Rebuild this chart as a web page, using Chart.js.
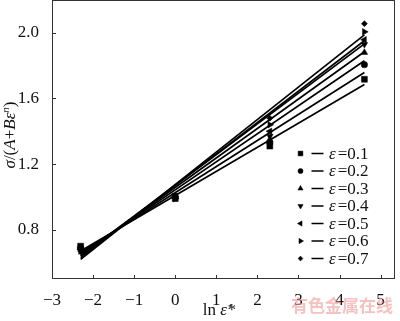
<!DOCTYPE html>
<html>
<head>
<meta charset="utf-8">
<script src="https://cdn.jsdelivr.net/npm/chart.js@4.4.1/dist/chart.umd.min.js"></script>
<style>
  html, body { margin: 0; padding: 0; background: #fff; }
  #wrap { width: 400px; height: 321px; position: relative; }
</style>
</head>
<body>
<div id="wrap"><canvas id="c" width="400" height="321"></canvas></div>
<script>
// ---- data ----
const lnRate = [-2.303, 0, 2.303, 4.605];          // ln(strain rate*) of the tests
const strainLabels = ['0.1', '0.2', '0.3', '0.4', '0.5', '0.6', '0.7'];
const eps01 = [0.70, 0.99, 1.31, 1.717];
const eps02 = [0.69, 1.00, 1.33, 1.806];
const eps03 = [0.69, 1.00, 1.35, 1.880];
const eps04 = [0.68, 1.01, 1.37, 1.930];
const eps05 = [0.68, 1.00, 1.40, 1.958];
const eps06 = [0.67, 0.99, 1.44, 2.006];
const eps07 = [0.67, 1.00, 1.48, 2.056];
// fitted lines: value at first and last lnRate
const fitStart = [0.670, 0.660, 0.650, 0.645, 0.640, 0.630, 0.620];
const fitEnd   = [1.685, 1.758, 1.830, 1.885, 1.933, 1.952, 1.988];
const xTicks = [-3, -2, -1, 0, 1, 2, 3, 4, 5];
const yTicks = [0.8, 1.2, 1.6, 2.0];

const seriesValues = [eps01, eps02, eps03, eps04, eps05, eps06, eps07];
const markerStyles = [
  { style: 'rect', rot: 0, r: 4.2 },
  { style: 'circle', rot: 0, r: 3.2 },
  { style: 'triangle', rot: 0, r: 3.8 },
  { style: 'triangle', rot: 180, r: 3.8 },
  { style: 'triangle', rot: -90, r: 3.8 },
  { style: 'triangle', rot: 90, r: 3.8 },
  { style: 'rectRot', rot: 0, r: 3.0 }
];

const SERIF = '"Liberation Serif", "DejaVu Serif", serif';
const datasets = [];
seriesValues.forEach((vals, i) => {
  datasets.push({
    label: 'fit ε=' + strainLabels[i],
    data: [{ x: lnRate[0], y: fitStart[i] }, { x: lnRate[lnRate.length - 1], y: fitEnd[i] }],
    showLine: true, borderColor: '#000', borderWidth: 1.7, pointRadius: 0, order: 2
  });
});
seriesValues.forEach((vals, i) => {
  datasets.push({
    label: 'ε=' + strainLabels[i],
    data: vals.map((v, k) => ({ x: lnRate[k], y: v })),
    showLine: false,
    pointStyle: markerStyles[i].style,
    rotation: markerStyles[i].rot,
    pointRadius: markerStyles[i].r,
    backgroundColor: '#000', borderColor: '#000', borderWidth: 0.5,
    order: 1
  });
});

function drawSegments(ctx, segs, x, y, align) {
  let total = 0;
  segs.forEach(s => {
    ctx.font = (s.italic ? 'italic ' : '') + s.size + 'px ' + SERIF;
    s.w = ctx.measureText(s.t).width + (s.gap || 0);
    total += s.w;
  });
  let cx = align === 'center' ? x - total / 2 : x;
  segs.forEach(s => {
    ctx.font = (s.italic ? 'italic ' : '') + s.size + 'px ' + SERIF;
    ctx.fillText(s.t, cx, y + (s.dy || 0));
    cx += s.w;
  });
}

const decorPlugin = {
  id: 'decor',
  afterDraw(chart) {
    const { ctx, chartArea: a, scales } = chart;
    ctx.save();
    ctx.strokeStyle = '#333';
    ctx.lineWidth = 1;
    ctx.strokeRect(a.left + 0.5, a.top + 0.5, a.right - a.left - 1, a.bottom - a.top - 1);
    ctx.beginPath();
    xTicks.forEach(v => {
      const px = Math.round(scales.x.getPixelForValue(v)) + 0.5;
      ctx.moveTo(px, a.bottom); ctx.lineTo(px, a.bottom - 4);
    });
    yTicks.forEach(v => {
      const py = Math.round(scales.y.getPixelForValue(v)) + 0.5;
      ctx.moveTo(a.left, py); ctx.lineTo(a.left + 4, py);
    });
    ctx.stroke();

    ctx.fillStyle = '#111';
    ctx.textBaseline = 'middle';
    ctx.textAlign = 'left';
    drawSegments(ctx, [
      { t: 'ln ', italic: false, size: 17 },
      { t: 'ε\u0307*', italic: true, size: 17 }
    ], 219, 311, 'center');
    ctx.save();
    ctx.translate(11, 135);
    ctx.rotate(-Math.PI / 2);
    drawSegments(ctx, [
      { t: 'σ', italic: true, size: 17 },
      { t: '/(', italic: false, size: 17 },
      { t: 'A', italic: true, size: 17 },
      { t: '+', italic: false, size: 17 },
      { t: 'B', italic: true, size: 17 },
      { t: 'ε', italic: true, size: 17 },
      { t: 'n', italic: true, size: 11, dy: -5 },
      { t: ')', italic: false, size: 17 }
    ], 0, 0, 'center');
    ctx.restore();

    const rowY0 = 153.5, rowDy = 17.5;
    strainLabels.forEach((lab, i) => {
      const y = rowY0 + i * rowDy;
      const m = markerStyles[i];
      ctx.fillStyle = '#000'; ctx.strokeStyle = '#000'; ctx.lineWidth = 0.5;
      Chart.helpers.drawPoint(ctx, { pointStyle: m.style, rotation: m.rot, radius: m.r * 0.8, borderWidth: 0.5 }, 300.5, y);
      ctx.lineWidth = 1.5;
      ctx.beginPath(); ctx.moveTo(311.5, y); ctx.lineTo(323.5, y); ctx.stroke();
      ctx.fillStyle = '#111';
      drawSegments(ctx, [
        { t: 'ε', italic: true, size: 17, gap: 2 },
        { t: '=' + lab, italic: false, size: 17 }
      ], 329, y + 1, 'left');
    });

    ctx.fillStyle = 'rgba(238,140,140,0.55)';
    ctx.font = 'bold 17px "Noto Sans CJK SC", sans-serif';
    ctx.fillText('有色金属在线', 291, 306);
    ctx.restore();
  }
};

new Chart(document.getElementById('c'), {
  type: 'scatter',
  data: { datasets },
  plugins: [decorPlugin],
  options: {
    responsive: false,
    animation: false,
    devicePixelRatio: 1,
    layout: { autoPadding: false, padding: { top: 0, right: 5, left: 0, bottom: 0 } },
    plugins: { legend: { display: false }, tooltip: { enabled: false } },
    scales: {
      x: {
        type: 'linear', min: -3, max: 5.35,
        afterBuildTicks: s => { s.ticks = xTicks.map(v => ({ value: v })); },
        afterFit: s => { s.height = 42; s.paddingLeft = 0; s.paddingRight = 0; },
        grid: { display: false }, border: { display: false },
        ticks: {
          padding: 3, color: '#111', maxRotation: 0,
          font: { family: SERIF, size: 17 },
          callback: v => (v < 0 ? '\u2212' + Math.abs(v) : String(v))
        }
      },
      y: {
        type: 'linear', min: 0.5, max: 2.2,
        afterBuildTicks: s => { s.ticks = yTicks.map(v => ({ value: v })); },
        afterFit: s => { s.width = 52; s.paddingTop = 0; s.paddingBottom = 0; },
        grid: { display: false }, border: { display: false },
        ticks: {
          padding: 5, color: '#111',
          font: { family: SERIF, size: 17 },
          callback: v => Number(v).toFixed(1)
        }
      }
    }
  }
});
</script>
</body>
</html>
